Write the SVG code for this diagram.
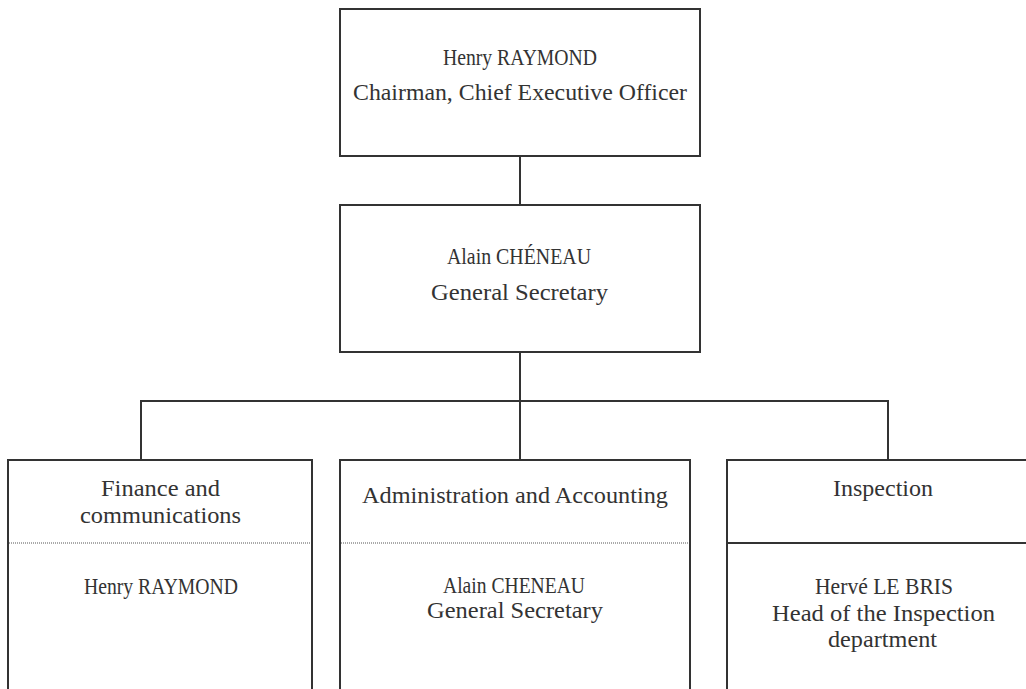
<svg xmlns="http://www.w3.org/2000/svg" width="1026" height="689" viewBox="0 0 1026 689">
<style>
.box{fill:#fff;stroke:#333;stroke-width:2}
.conn{stroke:#333;stroke-width:2;fill:none}
.dot{stroke:#555;stroke-width:1;stroke-dasharray:1 1}
.sep{stroke:#333;stroke-width:2}
text{font-family:"Liberation Serif",serif;font-size:24px;fill:#333;text-anchor:middle}
</style>
<rect width="1026" height="689" fill="#fff"/>
<g id="connectors">
<line class="conn" x1="520" y1="156" x2="520" y2="205"/>
<line class="conn" x1="520" y1="352" x2="520" y2="401"/>
<polyline class="conn" points="141,460 141,401 888,401 888,460"/>
<line class="conn" x1="520" y1="401" x2="520" y2="460"/>
</g>
<g id="ceo">
<rect class="box" x="340" y="9" width="360" height="147"/>
<text x="520" y="65" textLength="154" lengthAdjust="spacingAndGlyphs">Henry RAYMOND</text>
<text x="520" y="100" textLength="334" lengthAdjust="spacingAndGlyphs">Chairman, Chief Executive Officer</text>
</g>
<g id="secretary">
<rect class="box" x="340" y="205" width="360" height="147"/>
<text x="519" y="264" textLength="144" lengthAdjust="spacingAndGlyphs">Alain CHÉNEAU</text>
<text x="519.5" y="300" textLength="177" lengthAdjust="spacingAndGlyphs">General Secretary</text>
</g>
<g id="finance">
<path class="box" d="M8,690 V460 H312 V690"/>
<line class="dot" x1="9" y1="543" x2="311" y2="543"/>
<text x="160.5" y="496" textLength="119" lengthAdjust="spacingAndGlyphs">Finance and</text>
<text x="160.5" y="523" textLength="161" lengthAdjust="spacingAndGlyphs">communications</text>
<text x="161" y="594" textLength="154" lengthAdjust="spacingAndGlyphs">Henry RAYMOND</text>
</g>
<g id="admin">
<path class="box" d="M340,690 V460 H690 V690"/>
<line class="dot" x1="341" y1="543" x2="689" y2="543"/>
<text x="515" y="503" textLength="306" lengthAdjust="spacingAndGlyphs">Administration and Accounting</text>
<text x="514" y="593" textLength="142" lengthAdjust="spacingAndGlyphs">Alain CHENEAU</text>
<text x="515" y="618" textLength="176" lengthAdjust="spacingAndGlyphs">General Secretary</text>
</g>
<g id="inspection">
<path class="box" d="M727,690 V460 H1040 V690"/>
<line class="sep" x1="727" y1="543" x2="1040" y2="543"/>
<text x="883" y="496" textLength="100" lengthAdjust="spacingAndGlyphs">Inspection</text>
<text x="884" y="594" textLength="138" lengthAdjust="spacingAndGlyphs">Hervé LE BRIS</text>
<text x="883.5" y="621" textLength="223" lengthAdjust="spacingAndGlyphs">Head of the Inspection</text>
<text x="882.5" y="647" textLength="109" lengthAdjust="spacingAndGlyphs">department</text>
</g>
</svg>
